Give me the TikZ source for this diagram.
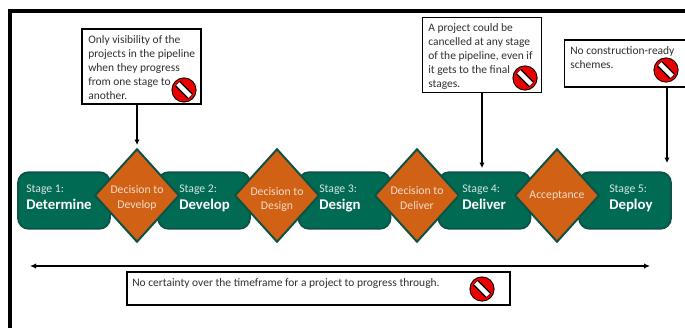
\documentclass[tikz,border=0pt]{standalone}
\usepackage{fontspec}
\setmainfont{Carlito}
\usetikzlibrary{shapes.geometric,arrows.meta}
\definecolor{stagegreen}{HTML}{006A53}
\definecolor{edgegreen}{HTML}{0E5145}
\definecolor{gateorange}{HTML}{D16215}
\definecolor{softgreen}{HTML}{D5E6E0}
\definecolor{softorange}{HTML}{F3DCCB}
\definecolor{notetext}{HTML}{303030}
\tikzset{
  x=0.75pt,y=-0.75pt,
  stagebox/.style={draw=edgegreen,line width=1.3pt,fill=stagegreen,rounded corners=8pt,minimum width=69pt,minimum height=42.5pt,inner sep=0pt},
  gate/.style={diamond,aspect=0.9,draw=edgegreen,line width=1.5pt,fill=gateorange,minimum width=63.5pt,minimum height=70pt,inner sep=0pt},
  gatelabel/.style={inner sep=0pt,text=softorange,font=\fontsize{8.8}{10.9}\selectfont,align=center},
  stagelabel/.style={anchor=north west,inner sep=0pt,align=left,text=softgreen,font=\fontsize{8.8}{10}\selectfont},
  notebox/.style={draw=black,line width=1.1pt,fill=white,inner sep=0pt},
  notetextstyle/.style={anchor=north west,inner sep=0pt,align=left,text=notetext,font=\fontsize{8.6}{10.5}\selectfont},
  link/.style={draw=black,line width=1pt,-{Latex[length=4pt,width=4pt]}},
  span/.style={draw=black,line width=1pt,{Latex[length=4.5pt,width=4pt]}-{Latex[length=4.5pt,width=4pt]}},
  noentry/.pic={
    \fill[black] (0,0) circle[radius=12.6];
    \fill[red!92!black] (0,0) circle[radius=11.6];
    \draw[black,line width=5.4pt] (-6.4,-6.4) -- (6.4,6.4);
    \draw[white,line width=3.4pt] (-6.2,-6.2) -- (6.2,6.2);
  }
}
\newcommand{\stagetext}[2]{#1:\\[2.6pt]{\color{white}\bfseries\fontsize{11.1}{12}\selectfont #2}}
\begin{document}
\begin{tikzpicture}
\useasboundingbox (0,0) rectangle (685,328);
\fill[white] (0,0) rectangle (685,328);
\fill[black] (8,9) rectangle (685,13);
\fill[black] (8,9) rectangle (12,328);

\node[stagebox] (s1) at (64,200.5) {};
\node[stagebox] (s2) at (204,200.5) {};
\node[stagebox] (s3) at (344.5,200.5) {};
\node[stagebox] (s4) at (484.5,200.5) {};
\node[stagebox] (s5) at (625,200.5) {};

\node[gate] (g1) at (137,195.5) {};
\node[gate] (g2) at (277,195.5) {};
\node[gate] (g3) at (417,195.5) {};
\node[gate] (g4) at (557,195.5) {};
\node[gatelabel] (gt1) at (137,198) {Decision to\\Develop};
\node[gatelabel] (gt2) at (277,199.5) {Decision to\\Design};
\node[gatelabel] (gt3) at (417,198) {Decision to\\Deliver};
\node[gatelabel] (gt4) at (557,196) {Acceptance};

\node[stagelabel] (t1) at (26,185) {\stagetext{Stage 1}{Determine}};
\node[stagelabel] (t2) at (179,185) {\stagetext{Stage 2}{Develop}};
\node[stagelabel] (t3) at (319,185) {\stagetext{Stage 3}{Design}};
\node[stagelabel] (t4) at (462,185) {\stagetext{Stage 4}{Deliver}};
\node[stagelabel] (t5) at (609,185) {\stagetext{Stage 5}{Deploy}};

\node[notebox,minimum width=89pt,minimum height=56pt] (n1) at (141.5,66.5) {};
\node[notebox,minimum width=89.5pt,minimum height=56.5pt] (n2) at (482,55) {};
\node[notebox,minimum width=91pt,minimum height=35pt] (n3) at (625,63.5) {};
\node[notebox,minimum width=287pt,minimum height=24.5pt] (n4) at (318.5,288.5) {};

\node[notetextstyle] (nt1) at (88,35) {Only visibility of the\\projects in the pipeline\\when they progress\\from one stage to\\another.};
\node[notetextstyle] (nt2) at (428,23) {A project could be\\cancelled at any stage\\of the pipeline, even if\\it gets to the final\\stages.};
\node[notetextstyle] (nt3) at (570,46) {No construction-ready\\schemes.};
\node[notetextstyle] (nt4) at (132,278) {No certainty over the timeframe for a project to progress through.};

\pic at (184,90) {noentry};
\pic at (525,78) {noentry};
\pic at (666,70) {noentry};
\pic at (482,289) {noentry};

\coordinate (a2) at (482,168);
\coordinate (a3) at (667,163);
\coordinate (a1) at (137,145);
\coordinate (b1) at (30,266);
\coordinate (b2) at (650,266);
\draw[link] (n1.south -| a1) -- (a1);
\draw[link] (n2.south -| a2) -- (a2);
\draw[link] (n3.south -| a3) -- (a3);
\draw[span] (b1) -- (b2);
\end{tikzpicture}
\end{document}
